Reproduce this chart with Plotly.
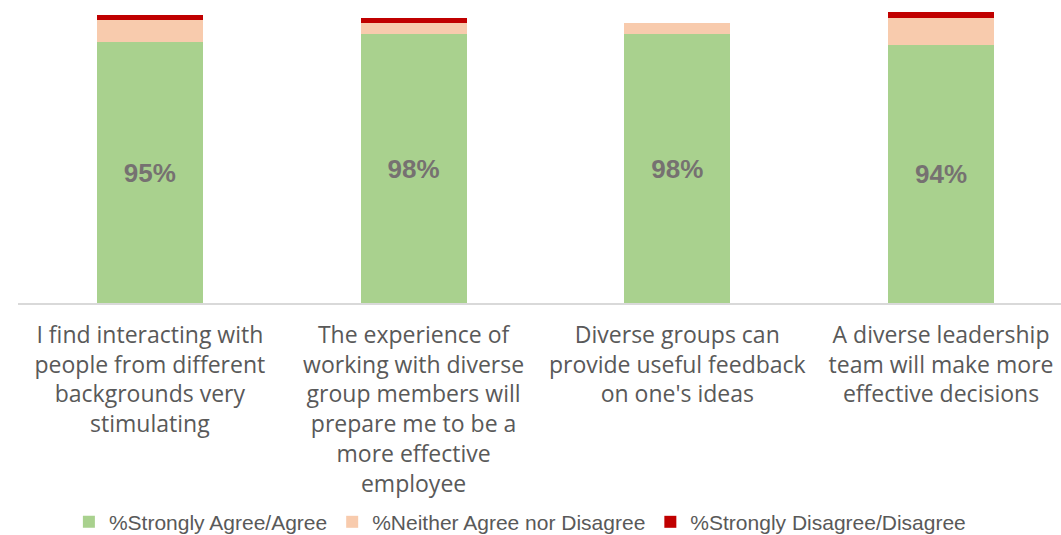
import plotly.graph_objects as go

# Survey statements (x-axis categories)
categories = [
    "I find interacting with<br>people from different<br>backgrounds very<br>stimulating",
    "The experience of<br>working with diverse<br>group members will<br>prepare me to be a<br>more effective<br>employee",
    "Diverse groups can<br>provide useful feedback<br>on one's ideas",
    "A diverse leadership<br>team will make more<br>effective decisions",
]

# Response shares (%)
agree = [95, 98, 98, 94]
neither = [8, 4, 4, 10]
disagree = [2, 2, 0, 2]

series_names = [
    "%Strongly Agree/Agree",
    "%Neither Agree nor Disagree",
    "%Strongly Disagree/Disagree",
]
colors = ["#A9D18E", "#F8CBAD", "#C00000"]

x_pos = list(range(len(categories)))

fig = go.Figure()
fig.add_trace(go.Bar(
    x=x_pos, y=agree, name=series_names[0], marker_color=colors[0],
    text=[f"<b>{v}%</b>" for v in agree], textposition="inside",
    insidetextanchor="middle",
    textfont=dict(family="Liberation Sans, Arial", size=26, color="#767171"),
    marker_line_width=0,
))
fig.add_trace(go.Bar(
    x=x_pos, y=neither, name=series_names[1], marker_color=colors[1],
    marker_line_width=0, textposition="none",
))
fig.add_trace(go.Bar(
    x=x_pos, y=disagree, name=series_names[2], marker_color=colors[2],
    marker_line_width=0, textposition="none",
))

fig.update_layout(
    barmode="stack",
    bargap=0.598,
    width=1061, height=535,
    margin=dict(l=18, r=0, t=0, b=232),
    paper_bgcolor="white", plot_bgcolor="white",
    showlegend=True,
    legend=dict(
        orientation="h", xref="container", yref="container",
        x=0.49, xanchor="center", y=0.024, yanchor="middle",
        font=dict(family="Liberation Sans, Arial", size=21, color="#595959"),
        itemwidth=30, traceorder="normal",
    ),
    uniformtext=dict(mode="show", minsize=10),
)
fig.update_xaxes(
    tickmode="array", tickvals=x_pos, ticktext=categories,
    range=[-0.5, 3.455],
    showline=True, linecolor="#D9D9D9", linewidth=2,
    ticks="", showgrid=False, ticklabelstandoff=10,
    tickfont=dict(family="Open Sans", size=23, color="#595959"),
)
fig.update_yaxes(
    range=[0, 110.4], visible=False, showgrid=False, zeroline=False,
)

fig.write_html("out.html")
